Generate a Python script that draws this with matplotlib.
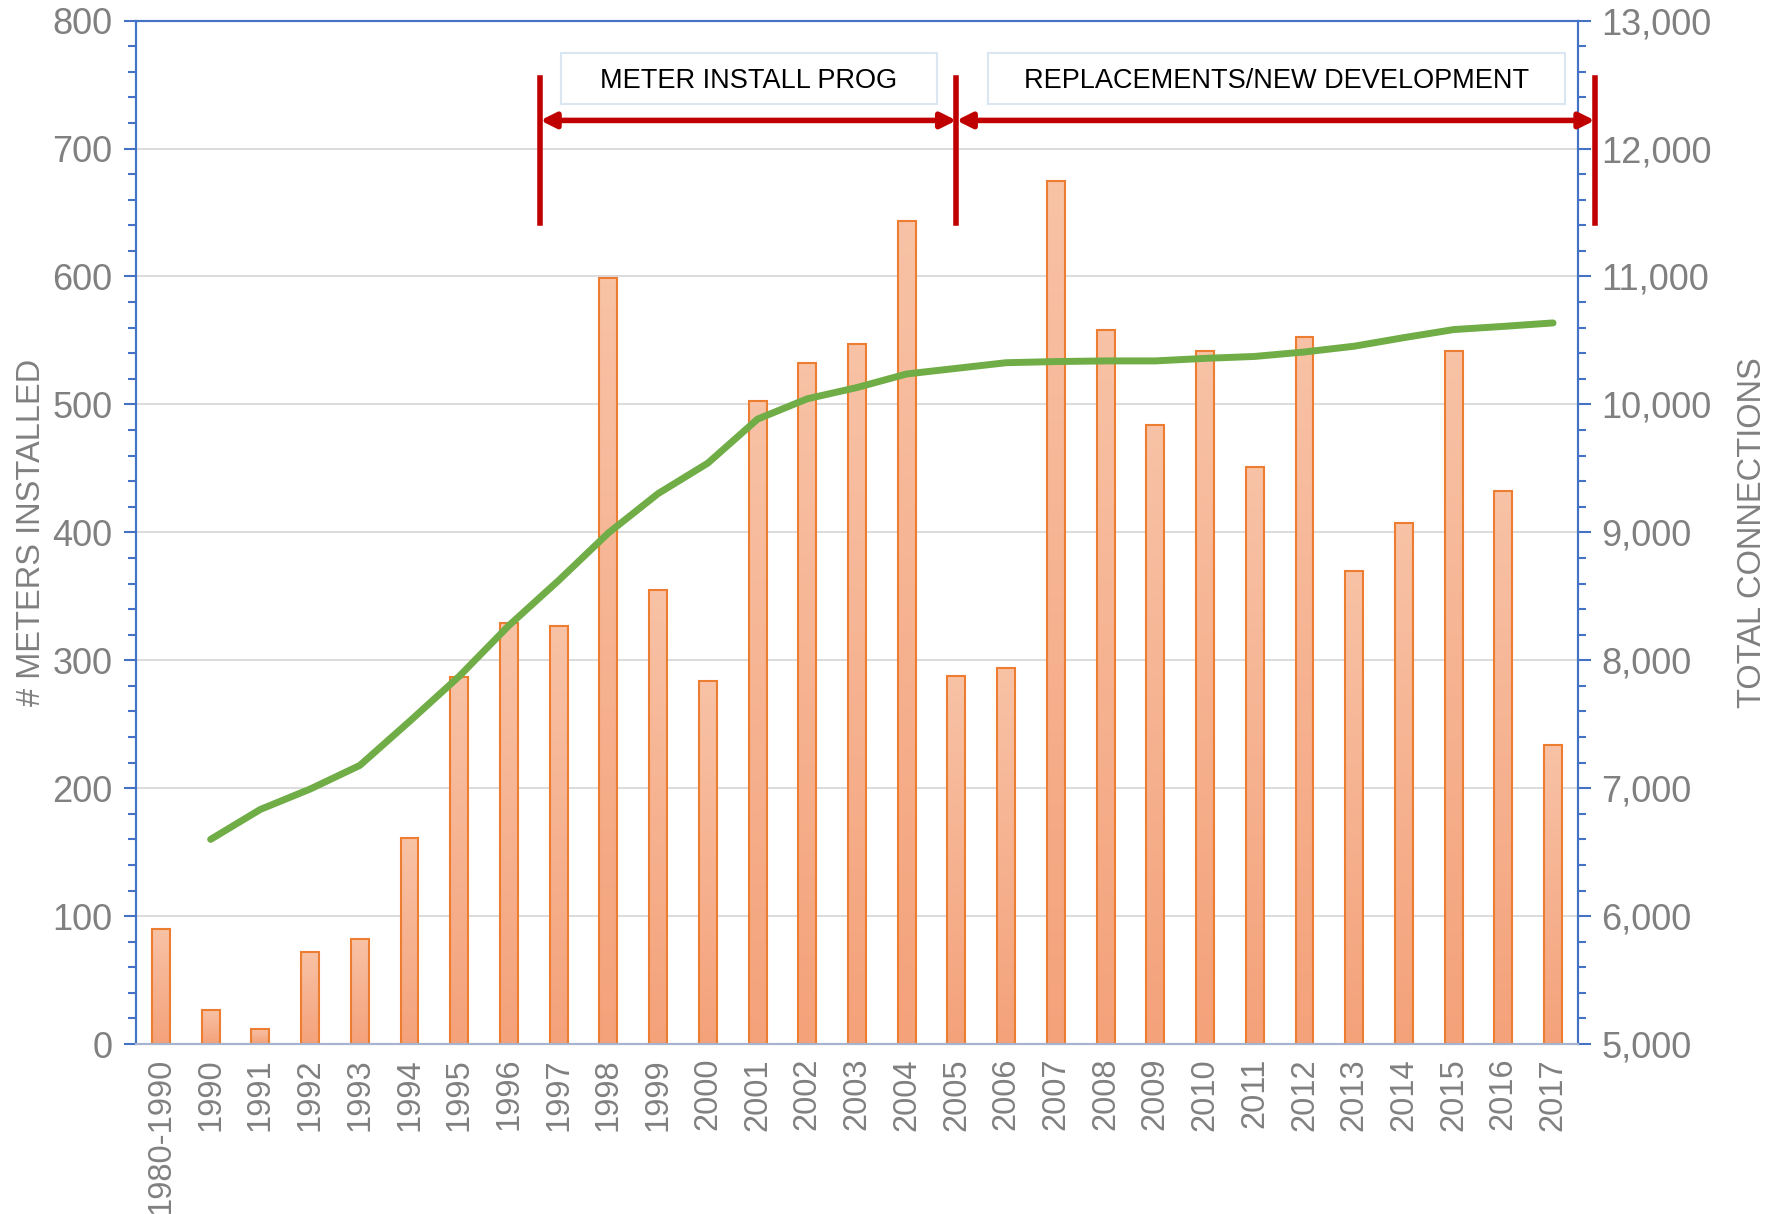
import numpy as np
import matplotlib.pyplot as plt
from matplotlib.colors import LinearSegmentedColormap

plt.rcParams['font.family'] = ['Liberation Sans', 'DejaVu Sans']

categories = ['1980-1990', '1990', '1991', '1992', '1993', '1994', '1995', '1996', '1997',
              '1998', '1999', '2000', '2001', '2002', '2003', '2004', '2005', '2006', '2007',
              '2008', '2009', '2010', '2011', '2012', '2013', '2014', '2015', '2016', '2017']
meters = [90, 27, 12, 72, 82, 161, 287, 329, 327, 599, 355, 284, 503, 532, 547, 643,
          288, 294, 675, 558, 484, 542, 451, 553, 370, 407, 542, 432, 234]
# total connections, no value for the first (1980-1990) group
connections = [np.nan, 6600, 6834, 6993, 7178, 7522, 7875, 8272, 8624, 8995, 9303, 9541,
               9885, 10044, 10132, 10238, 10282, 10326, 10335, 10340, 10340, 10360, 10375,
               10410, 10455, 10522, 10585, 10610, 10637]

phases = ['METER INSTALL PROG', 'REPLACEMENTS/NEW DEVELOPMENT']
phase_bounds = [7.63, 16.0, 28.84]

grey = '#808080'
blue = '#4472C4'
red = '#C00000'

fig = plt.figure(figsize=(17.67, 12.14), dpi=100)
ax = fig.add_axes([0.077, 0.14, 0.816, 0.843])
ax2 = ax.twinx()

x = np.arange(len(categories))
bars = ax.bar(x, meters, width=0.36, color='none', edgecolor='#ED7D31', linewidth=1.5, zorder=3)
cmap = LinearSegmentedColormap.from_list('salmon', ['#F4A27A', '#F8C2A6'])
grad = np.linspace(0, 1, 100).reshape(-1, 1)
for b in bars:
    bx, bw, bh = b.get_x(), b.get_width(), b.get_height()
    im = ax.imshow(grad, extent=[bx, bx + bw, 0, bh], origin='lower', aspect='auto',
                   cmap=cmap, zorder=2)
    im.set_clip_path(b)

ax2.plot(x, connections, color='#70AD47', linewidth=5, solid_capstyle='round', zorder=4)

ax.set_xlim(-0.5, len(categories) - 0.5)
ax.set_ylim(0, 800)
ax2.set_ylim(5000, 13000)
ax.set_yticks(np.arange(0, 801, 100))
ax.set_yticks(np.arange(0, 801, 20), minor=True)
ax2.set_yticks(np.arange(5000, 13001, 1000))
ax2.set_yticks(np.arange(5000, 13001, 200), minor=True)
ax2.set_yticklabels([f'{v:,}' for v in range(5000, 13001, 1000)])
ax.set_xticks(x)
ax.set_xticklabels(categories, rotation=90)

ax.grid(axis='y', color='#D9D9D9', linewidth=1.3, zorder=0)
ax.set_axisbelow(True)

for a in (ax, ax2):
    for s in ('left', 'right', 'top'):
        a.spines[s].set_color(blue)
        a.spines[s].set_linewidth(1.5)
    a.spines['bottom'].set_color('#A6B4D0')
    a.spines['bottom'].set_linewidth(1.5)
ax.tick_params(axis='y', which='major', length=9, width=1.5, color=blue, labelsize=26,
               labelcolor=grey, pad=8)
ax.tick_params(axis='y', which='minor', length=6, width=1.5, color=blue)
ax2.tick_params(axis='y', which='major', length=9, width=1.5, color=blue, labelsize=26,
                labelcolor=grey, pad=8)
ax2.tick_params(axis='y', which='minor', length=6, width=1.5, color=blue)
ax.tick_params(axis='x', length=0, labelsize=23.5, labelcolor=grey, pad=10)

ax.set_ylabel('# METERS INSTALLED', fontsize=23.5, color=grey, labelpad=4)
ax2.set_ylabel('TOTAL CONNECTIONS', fontsize=23.5, color=grey, labelpad=18)

# phase annotations (drawn in left-axis data units)
tr = ax.transData
for xb in phase_bounds:
    ax2.plot([xb, xb], [642, 755], color=red, linewidth=4, transform=tr, clip_on=False,
             zorder=5)
for i in range(2):
    ax2.annotate('', xy=(phase_bounds[i], 722), xytext=(phase_bounds[i + 1], 722),
                 xycoords=tr, textcoords=tr, annotation_clip=False,
                 arrowprops=dict(arrowstyle='<|-|>,head_length=0.9,head_width=0.45',
                                 color=red, lw=4, shrinkA=0, shrinkB=0), zorder=5)
boxes = [(8.04, 15.6), (16.63, 28.23)]
for (x0, x1), label in zip(boxes, phases):
    ax2.add_patch(plt.Rectangle((x0, 735), x1 - x0, 40, transform=tr, facecolor='white',
                                edgecolor='#DAE6F2', linewidth=1.5, zorder=5))
    ax2.text((x0 + x1) / 2, 753, label, transform=tr, ha='center', va='center',
             fontsize=19.5, color='black', zorder=6)

fig.savefig('out.png', dpi=100)
